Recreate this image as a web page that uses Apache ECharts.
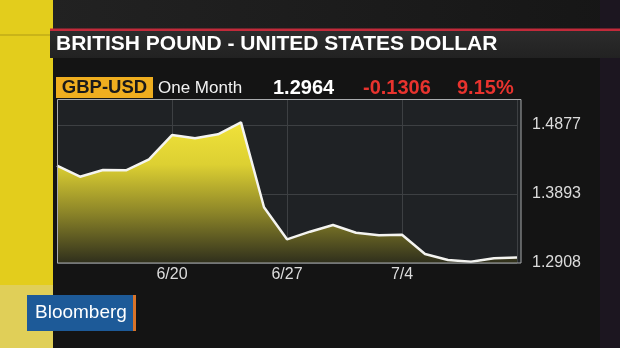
<!DOCTYPE html>
<html>
<head>
<meta charset="utf-8">
<script src="https://cdn.jsdelivr.net/npm/echarts@6/dist/echarts.min.js"></script>
<style>
html,body{margin:0;padding:0;background:#141414;}
#chart{width:620px;height:348px;}
</style>
</head>
<body>
<div id="chart"></div>
<script>
var dates = ['6/13','6/14','6/15','6/16','6/17','6/20','6/21','6/22','6/23','6/24','6/27','6/28','6/29','6/30','7/1','7/4','7/5','7/6','7/7','7/8','7/11'];
var gbpusd = [1.4296,1.4139,1.4235,1.4231,1.4388,1.4734,1.4687,1.4744,1.4915,1.3703,1.3246,1.3355,1.3450,1.3340,1.3303,1.3312,1.3036,1.2951,1.2927,1.2975,1.2985];
var yTicks = [1.2908, 1.3893, 1.4877];
var yMin = 1.2908, yMax = 1.5234;
var titleText = 'BRITISH POUND - UNITED STATES DOLLAR';
var tickerText = 'GBP-USD';
var periodText = 'One Month';
var lastText = '1.2964';
var changeText = '-0.1306';
var pctText = '9.15%';

var chart = echarts.init(document.getElementById('chart'));
var F = 'Liberation Sans, Arial, Helvetica, sans-serif';
chart.setOption({
  backgroundColor: '#141414',
  animation: false,
  grid: {left: 57, right: 103, top: 100, bottom: 85},
  xAxis: {
    type: 'category',
    data: dates,
    boundaryGap: false,
    axisLine: {show: false},
    axisTick: {show: false},
    axisLabel: {
      color: '#dcdcdc', fontSize: 16, fontFamily: F, margin: 4,
      interval: function (i) { return i % 5 === 0 && i !== 0 && i !== 20; }
    },
    splitLine: {
      show: true,
      interval: function (i) { return i % 5 === 0; },
      lineStyle: {color: '#3d4043', width: 1}
    }
  },
  yAxis: {
    type: 'value',
    position: 'right',
    min: yMin, max: yMax,
    axisLine: {show: false},
    axisTick: {show: false, customValues: yTicks},
    axisLabel: {
      color: '#dcdcdc', fontSize: 16, fontFamily: F, margin: 15,
      customValues: yTicks,
      padding: [0, 0, 11, 0],
      formatter: function (v) { return v.toFixed(4); }
    },
    splitLine: {show: true, lineStyle: {color: '#3d4043', width: 1}}
  },
  series: [{
    type: 'line',
    data: gbpusd,
    symbol: 'none',
    z: 5,
    lineStyle: {color: '#f4f4f0', width: 2.5},
    areaStyle: {
      opacity: 1,
      color: new echarts.graphic.LinearGradient(0, 0, 0, 1, [
        {offset: 0, color: '#f0e23a'},
        {offset: 0.3, color: '#ddd032'},
        {offset: 0.65, color: '#8a8328'},
        {offset: 1, color: '#2f2f1c'}
      ])
    }
  }],
  graphic: [
    {type: 'rect', z: -20, shape: {x: 0, y: 0, width: 620, height: 30}, style: {fill: new echarts.graphic.LinearGradient(0,0,1,0,[{offset:0,color:'#232323'},{offset:1,color:'#161616'}])}},
    {type: 'rect', z: -19, shape: {x: 600, y: 0, width: 20, height: 348}, style: {fill: '#1c1620'}},
    {type: 'rect', z: -10, shape: {x: 57, y: 100, width: 464, height: 163}, style: {fill: '#1f2225'}},
    {type: 'rect', z: -5, shape: {x: 0, y: 0, width: 53, height: 348}, style: {fill: '#e3cd1c'}},
    {type: 'rect', z: -4, shape: {x: 0, y: 34, width: 53, height: 2}, style: {fill: '#c9b418'}},
    {type: 'rect', z: -4, shape: {x: 0, y: 285, width: 53, height: 63}, style: {fill: '#e0cf58'}},
    {type: 'rect', z: 1, shape: {x: 50, y: 30, width: 570, height: 28}, style: {fill: new echarts.graphic.LinearGradient(0,0,0,1,[{offset:0,color:'#2c2c2c'},{offset:1,color:'#222222'}])}},
    {type: 'rect', z: 2, shape: {x: 50, y: 28.5, width: 570, height: 2.5}, style: {fill: '#c22a3a'}},
    {type: 'text', z: 3, style: {text: titleText, x: 56, y: 44, fill: '#ffffff', font: 'bold 21px ' + F, textAlign: 'left', textVerticalAlign: 'middle'}},
    {type: 'rect', z: 1, shape: {x: 56, y: 77, width: 97, height: 21}, style: {fill: '#efae1f'}},
    {type: 'text', z: 3, style: {text: tickerText, x: 104.5, y: 88, fill: '#1a1a1a', font: 'bold 18.5px ' + F, textAlign: 'center', textVerticalAlign: 'middle'}},
    {type: 'text', z: 3, style: {text: periodText, x: 158, y: 88, fill: '#f2f2f2', font: '17px ' + F, textAlign: 'left', textVerticalAlign: 'middle'}},
    {type: 'text', z: 3, style: {text: lastText, x: 273, y: 88, fill: '#ffffff', font: 'bold 20px ' + F, textAlign: 'left', textVerticalAlign: 'middle'}},
    {type: 'text', z: 3, style: {text: changeText, x: 363, y: 88, fill: '#e8332e', font: 'bold 20px ' + F, textAlign: 'left', textVerticalAlign: 'middle'}},
    {type: 'text', z: 3, style: {text: pctText, x: 457, y: 88, fill: '#e8332e', font: 'bold 20px ' + F, textAlign: 'left', textVerticalAlign: 'middle'}},
    {type: 'rect', z: 100, shape: {x: 57.5, y: 99.5, width: 463.5, height: 163.5}, style: {fill: 'none', stroke: '#a9abad', lineWidth: 1}},
    {type: 'rect', z: 3, shape: {x: 27, y: 295, width: 106, height: 36}, style: {fill: '#1d5a98'}},
    {type: 'rect', z: 3, shape: {x: 133, y: 295, width: 3, height: 36}, style: {fill: '#d9742a'}},
    {type: 'text', z: 4, style: {text: 'Bloomberg', x: 35, y: 313, fill: '#ffffff', font: '19px ' + F, textAlign: 'left', textVerticalAlign: 'middle'}}
  ]
});
</script>
</body>
</html>
